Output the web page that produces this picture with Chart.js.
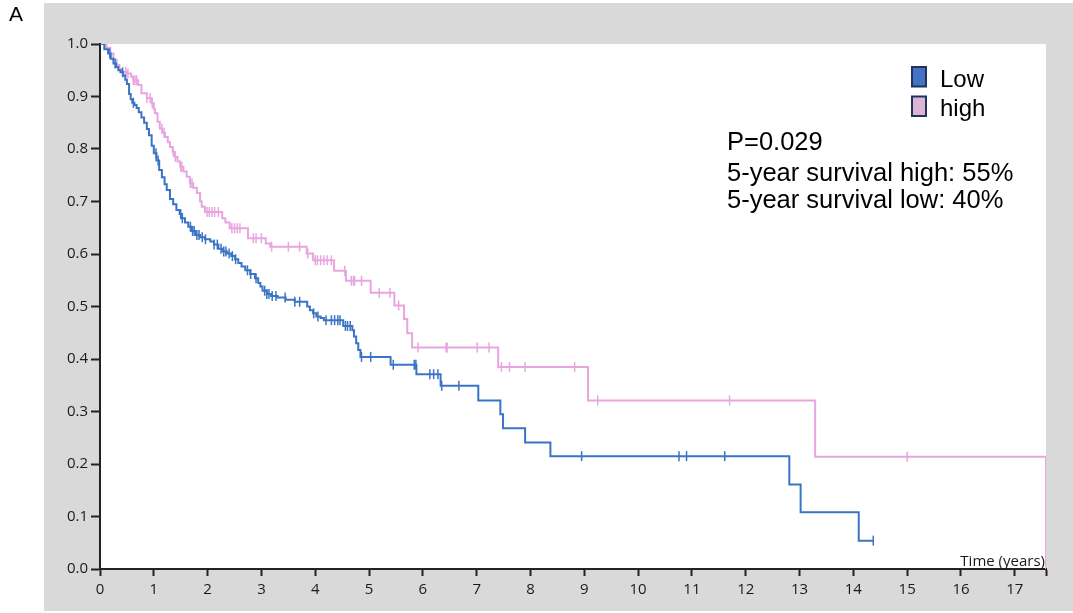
<!DOCTYPE html>
<html>
<head>
<meta charset="utf-8">
<script src="https://cdn.jsdelivr.net/npm/chart.js@4.4.1/dist/chart.umd.min.js"></script>
<style>
  html, body { margin: 0; padding: 0; background: #ffffff; }
  #wrap { width: 1073px; height: 613px; position: relative; }
</style>
</head>
<body>
<div id="wrap"><canvas id="c" width="1073" height="613"></canvas></div>
<script>
// ---- Data ----
const seriesNames = ["Low", "high"];

// Low group: step times (years) and survival after each step
const lowTimes = [0, 0.08, 0.15, 0.2, 0.25, 0.3, 0.34, 0.38, 0.43, 0.47, 0.5, 0.54, 0.57, 0.6, 0.64, 0.68, 0.72, 0.77, 0.82, 0.87, 0.91, 0.96, 1.0, 1.05, 1.1, 1.15, 1.2, 1.24, 1.3, 1.36, 1.42, 1.48, 1.52, 1.58, 1.64, 1.7, 1.78, 1.86, 1.95, 2.05, 2.12, 2.2, 2.28, 2.36, 2.44, 2.51, 2.57, 2.63, 2.7, 2.79, 2.88, 2.94, 2.98, 3.02, 3.1, 3.18, 3.3, 3.45, 3.62, 3.85, 3.9, 3.96, 4.02, 4.1, 4.16, 4.52, 4.69, 4.72, 4.76, 4.8, 4.84, 5.40, 5.88, 6.33, 7.03, 7.44, 7.49, 7.9, 8.37, 12.81, 13.02, 14.10, 14.37];
const lowSurv  = [1.0, 0.99, 0.982, 0.972, 0.963, 0.956, 0.950, 0.946, 0.940, 0.932, 0.924, 0.905, 0.895, 0.888, 0.884, 0.878, 0.870, 0.860, 0.850, 0.838, 0.826, 0.806, 0.792, 0.778, 0.760, 0.746, 0.733, 0.722, 0.705, 0.695, 0.684, 0.676, 0.668, 0.660, 0.652, 0.644, 0.636, 0.632, 0.628, 0.624, 0.618, 0.610, 0.605, 0.601, 0.596, 0.590, 0.583, 0.576, 0.569, 0.562, 0.554, 0.545, 0.538, 0.530, 0.524, 0.520, 0.517, 0.513, 0.509, 0.500, 0.493, 0.487, 0.481, 0.478, 0.474, 0.463, 0.455, 0.443, 0.430, 0.417, 0.404, 0.389, 0.371, 0.349, 0.321, 0.295, 0.268, 0.241, 0.215, 0.161, 0.108, 0.054, 0.054];
const lowCensor = [0.18, 0.28, 0.42, 0.62, 1.04, 1.08, 1.5, 1.53, 1.68, 1.72, 1.75, 1.8, 1.84, 1.9, 1.96, 2.12, 2.18, 2.25, 2.3, 2.34, 2.4, 2.46, 2.52, 2.74, 2.8, 2.9, 3.06, 3.1, 3.14, 3.2, 3.27, 3.44, 3.62, 3.71, 3.97, 4.05, 4.2, 4.3, 4.36, 4.42, 4.46, 4.56, 4.6, 4.65, 4.86, 5.03, 5.45, 5.84, 5.87, 6.13, 6.2, 6.28, 6.35, 6.67, 8.95, 10.76, 10.90, 11.61, 14.37];

// high group
const highTimes = [0, 0.12, 0.19, 0.25, 0.31, 0.36, 0.40, 0.5, 0.58, 0.62, 0.71, 0.77, 0.87, 0.96, 1.0, 1.02, 1.07, 1.11, 1.16, 1.21, 1.26, 1.30, 1.35, 1.39, 1.44, 1.49, 1.55, 1.61, 1.67, 1.73, 1.80, 1.86, 1.89, 1.95, 2.27, 2.33, 2.41, 2.75, 3.08, 3.16, 3.84, 3.96, 4.35, 4.57, 5.03, 5.47, 5.65, 5.71, 5.80, 7.40, 9.07, 13.29, 17.58];
const highSurv  = [1.0, 0.993, 0.982, 0.970, 0.960, 0.952, 0.947, 0.944, 0.937, 0.931, 0.922, 0.906, 0.897, 0.887, 0.876, 0.868, 0.852, 0.839, 0.831, 0.823, 0.813, 0.804, 0.795, 0.785, 0.776, 0.766, 0.757, 0.747, 0.735, 0.726, 0.716, 0.700, 0.690, 0.680, 0.668, 0.660, 0.649, 0.630, 0.620, 0.614, 0.601, 0.588, 0.568, 0.549, 0.526, 0.502, 0.476, 0.449, 0.422, 0.385, 0.321, 0.214, 0.0];
const highCensor = [0.1, 0.19, 0.48, 0.52, 0.62, 0.65, 0.68, 0.87, 0.93, 0.97, 1.15, 1.19, 1.36, 1.4, 1.5, 1.52, 1.68, 1.71, 1.99, 2.03, 2.08, 2.13, 2.2, 2.45, 2.5, 2.55, 2.6, 2.85, 2.9, 3.0, 3.19, 3.5, 3.71, 3.86, 4.0, 4.04, 4.1, 4.16, 4.22, 4.3, 4.55, 4.67, 4.71, 4.73, 4.86, 5.19, 5.39, 5.55, 5.91, 6.43, 6.45, 7.01, 7.23, 7.46, 7.61, 7.9, 8.82, 9.25, 11.7, 15.0];

const xTickValues = [0, 1, 2, 3, 4, 5, 6, 7, 8, 9, 10, 11, 12, 13, 14, 15, 16, 17];
const xMax = 17.58;
const annotationLines = ["P=0.029", "5-year survival high: 55%", "5-year survival low: 40%"];
const panelLabel = "A";
const xTitle = "Time (years)";

// ---- helpers ----
function stepPoints(times, surv) {
  return times.map((t, i) => ({ x: t, y: surv[i] }));
}
function survAt(times, surv, t) {
  let v = surv[0];
  for (let i = 0; i < times.length; i++) { if (times[i] <= t + 1e-9) v = surv[i]; }
  return v;
}
function censorPoints(cens, times, surv) {
  return cens.map(t => ({ x: t, y: survAt(times, surv, t) }));
}

const lowColor = "#3b74c4";
const highColor = "#e8a6e1";

const bgPlugin = {
  id: "bg",
  beforeDraw(chart) {
    const ctx = chart.ctx, a = chart.chartArea;
    ctx.save();
    ctx.fillStyle = "#ffffff";
    ctx.fillRect(0, 0, chart.width, chart.height);
    ctx.fillStyle = "#d9d9d9";
    ctx.fillRect(44, 3, chart.width - 44, 608);
    ctx.fillStyle = "#ffffff";
    ctx.fillRect(a.left, a.top, a.right - a.left, a.bottom - a.top);
    ctx.restore();
  },
  afterDraw(chart) {
    const ctx = chart.ctx, a = chart.chartArea;
    ctx.save();
    // panel label
    ctx.fillStyle = "#000";
    ctx.font = "21px 'Liberation Sans', Arial, sans-serif";
    ctx.textBaseline = "alphabetic";
    ctx.textAlign = "left";
    ctx.fillText(panelLabel, 9, 21);
    // x axis title inside plot
    ctx.font = "15px 'Open Sans', sans-serif";
    ctx.fillStyle = "#1a1a1a";
    ctx.textAlign = "right";
    ctx.fillText(xTitle, a.right - 1, 566);
    // legend
    const cols = ["#4472c4", "#dcb4d6"];
    const boxY = [66, 95.5];
    ctx.textAlign = "left";
    ctx.font = "24px 'Liberation Sans', Arial, sans-serif";
    seriesNames.forEach((name, i) => {
      ctx.fillStyle = cols[i];
      ctx.fillRect(912, boxY[i] + 1, 14, 19.5);
      ctx.strokeStyle = "#1f3260";
      ctx.lineWidth = 2;
      ctx.strokeRect(912, boxY[i] + 1, 14, 19.5);
      ctx.fillStyle = "#000";
      ctx.fillText(name, 940, boxY[i] + 20.5);
    });
    // annotation
    ctx.font = "25.5px 'Liberation Sans', Arial, sans-serif";
    const baselines = [149.5, 180.5, 207.5];
    annotationLines.forEach((s, i) => ctx.fillText(s, 727, baselines[i]));
    ctx.restore();
  }
};

const tickFont = { family: "'Open Sans', sans-serif", size: 15 };

new Chart(document.getElementById("c"), {
  type: "line",
  data: {
    datasets: [
      { label: seriesNames[1], data: stepPoints(highTimes, highSurv), borderColor: highColor, borderWidth: 2, stepped: true, pointRadius: 0, fill: false, order: 4 },
      { label: seriesNames[1] + " censored", data: censorPoints(highCensor, highTimes, highSurv), type: "scatter", showLine: false, pointStyle: "line", rotation: 90, pointRadius: 5, borderColor: highColor, pointBorderWidth: 1.5, order: 3 },
      { label: seriesNames[0], data: stepPoints(lowTimes, lowSurv), borderColor: lowColor, borderWidth: 2, stepped: true, pointRadius: 0, fill: false, order: 2 },
      { label: seriesNames[0] + " censored", data: censorPoints(lowCensor, lowTimes, lowSurv), type: "scatter", showLine: false, pointStyle: "line", rotation: 90, pointRadius: 5, borderColor: lowColor, pointBorderWidth: 1.5, order: 1 }
    ]
  },
  options: {
    responsive: false,
    animation: false,
    layout: { padding: { left: 0, top: 44, right: 27, bottom: 0 } },
    plugins: { legend: { display: false }, tooltip: { enabled: false } },
    scales: {
      x: {
        type: "linear", min: 0, max: xMax,
        afterBuildTicks(scale) { scale.ticks = xTickValues.map(v => ({ value: v })).concat([{ value: xMax }]); },
        afterFit(scale) { scale.height = 44; },
        grid: { drawOnChartArea: false, drawTicks: true, tickLength: 7, tickColor: "#222", tickWidth: 2 },
        border: { display: true, color: "#222", width: 2 },
        ticks: { font: tickFont, color: "#1a1a1a", padding: 5, maxRotation: 0, autoSkip: false,
          callback: v => (Number.isInteger(v) ? String(v) : "") }
      },
      y: {
        type: "linear", min: 0, max: 1,
        afterFit(scale) { scale.width = 100; },
        grid: { drawOnChartArea: false, drawTicks: true, tickLength: 9, tickColor: "#222", tickWidth: 2 },
        border: { display: true, color: "#222", width: 2 },
        ticks: { font: tickFont, color: "#1a1a1a", stepSize: 0.1, padding: 3, callback: v => v.toFixed(1) }
      }
    }
  },
  plugins: [bgPlugin]
});
</script>
</body>
</html>
